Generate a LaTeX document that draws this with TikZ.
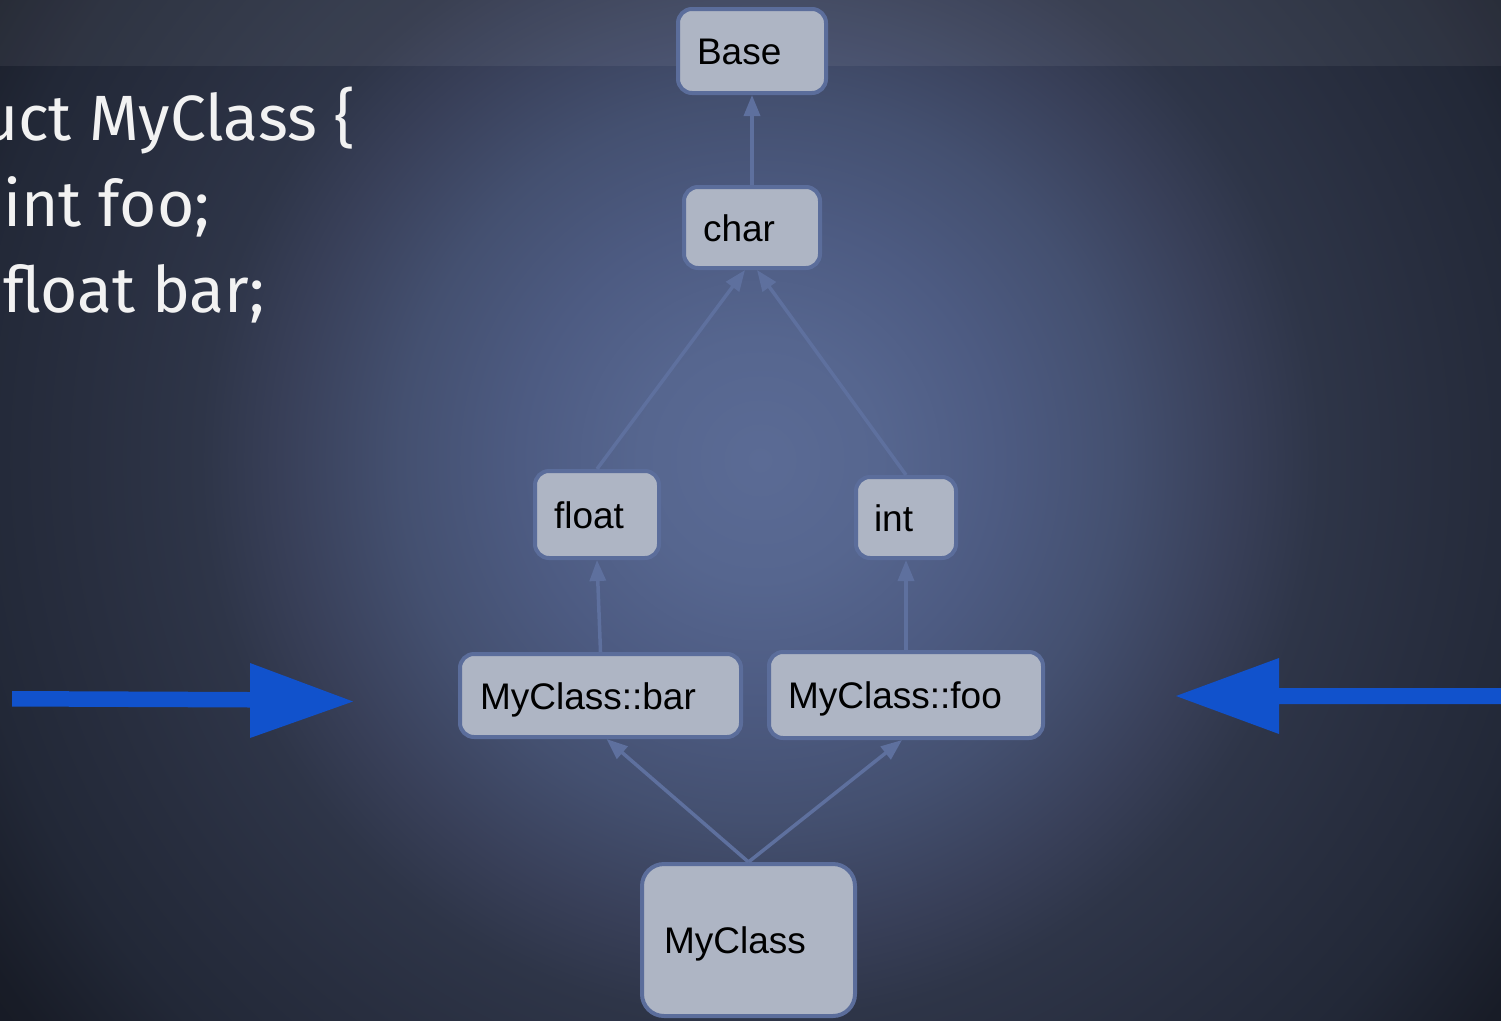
\documentclass[tikz,border=0pt]{standalone}
\usepackage{fontspec}
\setmainfont{Liberation Sans}
\newfontfamily\codefont{Fira Sans}
\usetikzlibrary{arrows.meta}

% background glow (the shaded square maps to +-25bp)
\definecolor{bgA}{HTML}{5B6B95}
\definecolor{bgB}{HTML}{56668F}
\definecolor{bgC}{HTML}{4D5B82}
\definecolor{bgD}{HTML}{445070}
\definecolor{bgE}{HTML}{383F58}
\definecolor{bgF}{HTML}{2E3548}
\definecolor{bgG}{HTML}{282E3F}
\definecolor{bgH}{HTML}{222837}
\definecolor{bgI}{HTML}{181C27}
\definecolor{bgJ}{HTML}{151922}
\pgfdeclareradialshading{bgglow}{\pgfpoint{0bp}{0bp}}{%
  color(0bp)=(bgA); color(3bp)=(bgB); color(6bp)=(bgC); color(9bp)=(bgD);
  color(12bp)=(bgE); color(14bp)=(bgF); color(17bp)=(bgG); color(20bp)=(bgH);
  color(23bp)=(bgI); color(25bp)=(bgJ)}

% diagram colours
\definecolor{boxfill}{HTML}{AEB5C4}
\definecolor{boxline}{HTML}{5B6D9B}
\definecolor{linkcolor}{HTML}{5E709E}
\definecolor{bluefill}{HTML}{1152CC}
\definecolor{codewhite}{HTML}{F2F2F2}

\begin{document}
\begin{tikzpicture}[x=1pt,y=-1pt,
  tbox/.style={draw=boxline, fill=boxfill, line width=4pt, rounded corners=14pt,
    font=\fontsize{37}{44}\selectfont, text=black, inner ysep=0pt, align=left,
    text height=27pt, text depth=0pt},
  link/.style={draw=linkcolor, line width=3.5pt, -{Triangle[length=21pt,width=16pt]}},
  codetext/.style={font=\codefont\fontsize{64}{78}\selectfont, text=codewhite, inner sep=0pt},
  bluearrow/.style={fill=bluefill}]

\useasboundingbox (0,0) rectangle (1501,1020);
\clip (0,0) rectangle (1501,1020);

% backdrop
\shade[shading=bgglow] (-240,-540) rectangle (1760,1460);
\fill[white, opacity=0.06] (0,0) rectangle (1501,66);

% source code
\node[codetext, anchor=base east] (line1) at (355,140) {struct MyClass \{};
\node[codetext, anchor=base west] (line2) at (3,226) {int foo;};
\node[codetext, anchor=base west] (line3) at (3,312) {float bar;};

% type graph
\node[tbox, minimum width=148, minimum height=84, inner xsep=19, text width=110] (base) at (752,51) {Base};
\node[tbox, minimum width=136, minimum height=81, inner xsep=19, text width=98] (char) at (752,227.5) {char};
\node[tbox, minimum width=124, minimum height=87, inner xsep=19, text width=86] (float) at (597,514.5) {float};
\node[tbox, minimum width=100, minimum height=81, inner xsep=18, text width=64] (int) at (906,517.5) {int};
\node[tbox, minimum width=281, minimum height=83, inner xsep=20, text width=241] (bar) at (600.5,695.5) {MyClass::bar};
\node[tbox, minimum width=274, minimum height=86, inner xsep=19, text width=236] (foo) at (906,695) {MyClass::foo};
\node[tbox, rounded corners=22pt, minimum width=213, minimum height=152, inner xsep=22, text width=169] (myclass) at (748.5,940) {MyClass};

\draw[link] (char.north) -- (base.south);
\draw[link] (float.north) -- ([xshift=-7pt]char.south);
\draw[link] (int.north) -- ([xshift=5pt]char.south);
\draw[link] (bar.north) -- (float.south);
\draw[link] (foo.north) -- (int.south);
\draw[link] (myclass.north) -- ([xshift=6pt]bar.south);
\draw[link] (myclass.north) -- ([xshift=-4pt]foo.south);

% pointers
\fill[bluearrow] (12,691) -- (250,692) -- (250,663) -- (353,701.5) -- (250,738) -- (250,707.5) -- (12,706.5) -- cycle;
\fill[bluearrow] (1501,688) -- (1279,688) -- (1279,658) -- (1176,696) -- (1279,734) -- (1279,704) -- (1501,704) -- cycle;
\end{tikzpicture}
\end{document}
